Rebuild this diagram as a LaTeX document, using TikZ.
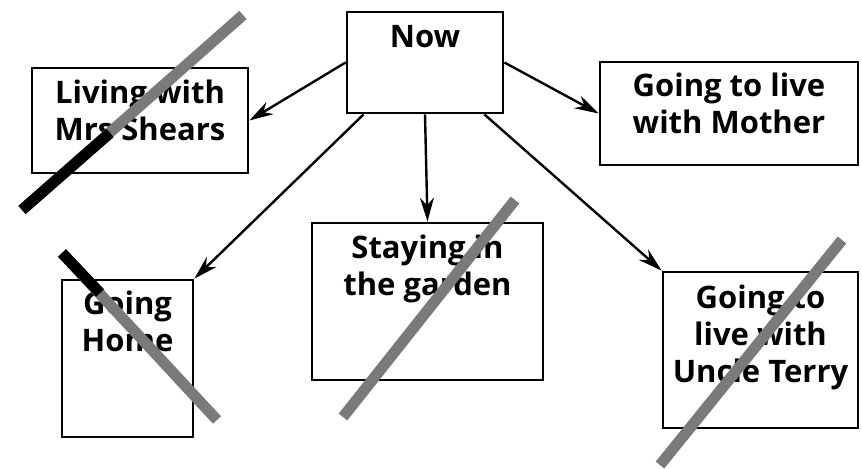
\documentclass[tikz,border=0pt]{standalone}
\usepackage{fontspec}
\setmainfont{Open Sans}
\usetikzlibrary{positioning,arrows.meta}

\begin{document}
\begin{tikzpicture}[x=0.5pt,y=-0.5pt,
	box/.style={draw, line width=1.4pt, inner sep=0pt},
	boxtext/.style={inner sep=0pt, align=center, font=\fontsize{15.5}{18.5}\selectfont\bfseries},
	link/.style={line width=1.2pt, -{Stealth[length=12pt,width=7pt]}},
	crossout/.style={line width=5.5pt, color=black!52},
	crossoutdark/.style={line width=5.5pt, color=black}]
			%%%%% START %%%%%
			\useasboundingbox (0,0) rectangle (862,469);
			
			\node[box, minimum width=78pt, minimum height=50.5pt] (now) at (425, 62.5) {};
			\node[boxtext, below=7pt of now.north] (nowtxt) {Now};
			
			\node[box, minimum width=108pt, minimum height=52.5pt] (living) at (140, 120.5) {};
			\node[boxtext, below=6.5pt of living.north] (livingtxt) {Living with\\Mrs Shears};
			
			\node[box, minimum width=129pt, minimum height=51.5pt] (mother) at (729, 113.5) {};
			\node[boxtext, below=6pt of mother.north] (mothertxt) {Going to live\\with Mother};
			
			\node[box, minimum width=65.5pt, minimum height=78.5pt] (home) at (127.5, 358.5) {};
			\node[boxtext, below=6pt of home.north] (hometxt) {Going\\Home};
			
			\node[box, minimum width=115.5pt, minimum height=78.5pt] (garden) at (427.5, 301.5) {};
			\node[boxtext, below=6.5pt of garden.north] (gardentxt) {Staying in\\the garden};
			
			\node[box, minimum width=97.5pt, minimum height=78pt] (terry) at (760.5, 350) {};
			\node[boxtext, below=7pt of terry.north] (terrytxt) {Going to\\live with\\Uncle Terry};
			
			% arrows out of now
			\draw[link] (now.west) -- (living.east);
			\draw[link] (now.east) -- (mother.west);
			\draw[link] ([xshift=9pt]now.south west) -- (home.north east);
			\draw[link] (now.south) -- (garden.north);
			\draw[link] ([xshift=-10pt]now.south east) -- (terry.north west);
			
			% crossed out
			\draw[crossout] (243, 15) -- (22, 210);
			\draw[crossoutdark] (110, 133) -- (22, 210);
			
			\draw[crossout] (62, 253) -- (217, 420);
			\draw[crossoutdark] (62, 253) -- (100, 293);
			
			\draw[crossout] (515, 200) -- (343, 417);
			\draw[crossout] (842, 240) -- (660, 465);
			
			%%%%% END %%%%%
\end{tikzpicture}
\end{document}
